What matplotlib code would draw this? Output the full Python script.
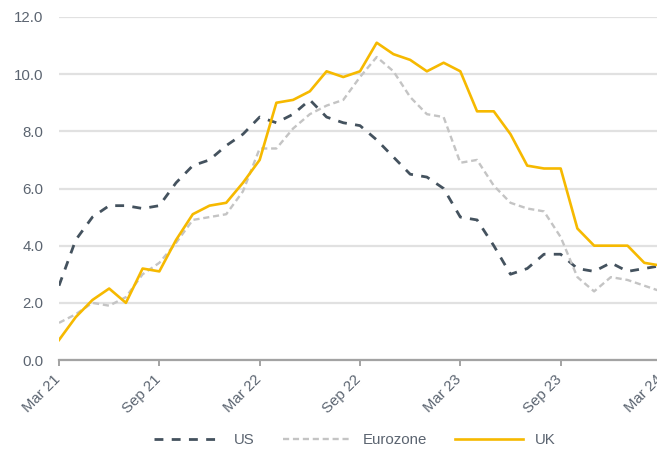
import numpy as np
import matplotlib.pyplot as plt
import matplotlib.transforms as mtransforms

plt.rcParams['font.family'] = ['Liberation Sans', 'DejaVu Sans']

# monthly inflation, Mar 2021 .. Mar 2024 (% y/y)
us = [2.6, 4.2, 5.0, 5.4, 5.4, 5.3, 5.4, 6.2, 6.8, 7.0, 7.5, 7.9,
      8.5, 8.3, 8.6, 9.1, 8.5, 8.3, 8.2, 7.7, 7.1, 6.5, 6.4, 6.0,
      5.0, 4.9, 4.0, 3.0, 3.2, 3.7, 3.7, 3.2, 3.1, 3.4, 3.1, 3.2, 3.3]
eurozone = [1.3, 1.6, 2.0, 1.9, 2.2, 3.0, 3.4, 4.1, 4.9, 5.0, 5.1, 5.9,
            7.4, 7.4, 8.1, 8.6, 8.9, 9.1, 9.9, 10.6, 10.1, 9.2, 8.6, 8.5,
            6.9, 7.0, 6.1, 5.5, 5.3, 5.2, 4.3, 2.9, 2.4, 2.9, 2.8, 2.6, 2.4]
uk = [0.7, 1.5, 2.1, 2.5, 2.0, 3.2, 3.1, 4.2, 5.1, 5.4, 5.5, 6.2,
      7.0, 9.0, 9.1, 9.4, 10.1, 9.9, 10.1, 11.1, 10.7, 10.5, 10.1, 10.4,
      10.1, 8.7, 8.7, 7.9, 6.8, 6.7, 6.7, 4.6, 4.0, 4.0, 4.0, 3.4, 3.3]
tick_labels = ['Mar 21', 'Sep 21', 'Mar 22', 'Sep 22', 'Mar 23', 'Sep 23', 'Mar 24']

months = np.arange(len(uk))
text_col = '#5b6470'

fig = plt.figure(figsize=(6.57, 4.54), dpi=100)
ax = fig.add_axes([59 / 657, 1 - 360 / 454, (661 - 59) / 657, (360 - 17) / 454])

ax.plot(months, us, color='#44525e', lw=2.0, dashes=(3.2, 3.0), label='US')
ax.plot(months, eurozone, color='#c4c4c4', lw=1.7, dashes=(2.6, 1.6), label='Eurozone')
ax.plot(months, uk, color='#f6b900', lw=1.9, label='UK')

ax.set_xlim(0, 36)
ax.set_ylim(0, 12)
ax.set_yticks(np.arange(0, 13, 2))
ax.set_yticklabels([f'{v:.1f}' for v in np.arange(0, 13, 2)])
ax.set_xticks(np.arange(0, 37, 6))
ax.set_xticklabels(tick_labels, rotation=45, ha='right')

ax.grid(axis='y', color='#e1e1e1', lw=1.6)
ax.set_axisbelow(True)
for s in ['top', 'right', 'left']:
    ax.spines[s].set_visible(False)
ax.spines['bottom'].set_color('#a3a3a3')
ax.spines['bottom'].set_linewidth(1.6)
ax.tick_params(axis='y', length=0, pad=11, labelsize=10.8, labelcolor=text_col)
ax.tick_params(axis='x', length=4, width=1.4, color='#a3a3a3', pad=5,
               labelsize=10.8, labelcolor=text_col)

# shift x labels slightly right, like the original
offset = mtransforms.ScaledTranslation(4 / 100, 0, fig.dpi_scale_trans)
for lab in ax.get_xticklabels():
    lab.set_transform(lab.get_transform() + offset)

fig.legend(loc='center', bbox_to_anchor=(0.54, 0.031), ncol=3, frameon=False,
           handlelength=4.5, handletextpad=0.8, columnspacing=1.9,
           prop={'size': 10.8}, labelcolor=text_col)

fig.savefig('out.png', dpi=100)
